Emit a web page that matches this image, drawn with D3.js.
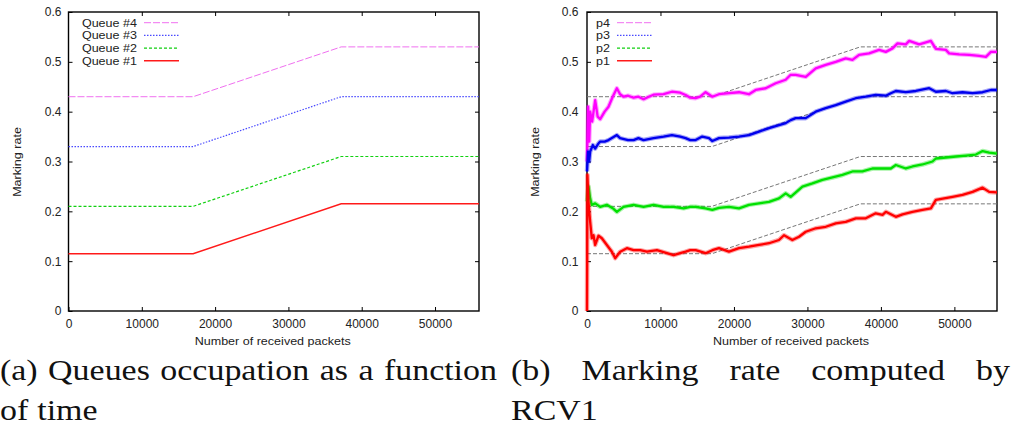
<!DOCTYPE html>
<html>
<head>
<meta charset="utf-8">
<script src="https://cdn.jsdelivr.net/npm/d3@7"></script>
<style>
  body { margin: 0; background: #fff; }
  svg { display: block; }
  .tick text { font-family: "Liberation Sans", Arial, sans-serif; font-size: 12px; fill: #222; }
  .tick line { stroke: #000; }
  .lbl { font-family: "Liberation Sans", Arial, sans-serif; font-size: 11px; fill: #222; }
  .cap { font-family: "Liberation Serif", serif; font-size: 29px; fill: #111; }
</style>
</head>
<body>
<svg id="chart" width="1017" height="430"></svg>
<script>
// ---------- data ----------
const xTicks = [0, 10000, 20000, 30000, 40000, 50000];
const yTicks = [0, 0.1, 0.2, 0.3, 0.4, 0.5, 0.6];

// target occupation profile (panel a, grey guides in panel b)
const targetX = [0, 17000, 37200, 56000];
const queue4 = [0.43, 0.43, 0.53, 0.53];
const queue3 = [0.33, 0.33, 0.43, 0.43];
const queue2 = [0.21, 0.21, 0.31, 0.31];
const queue1 = [0.115, 0.115, 0.215, 0.215];
const queueNames = ["Queue #4", "Queue #3", "Queue #2", "Queue #1"];

// marking rate computed by RCV1 (panel b), [packets, rate]
const p4 = [[0, 0.30], [150, 0.41], [300, 0.34], [431, 0.40], [700, 0.38], [1113, 0.423], [1450, 0.39],
  [1794, 0.385], [2400, 0.40], [2929, 0.41], [3500, 0.43], [4064, 0.447], [4500, 0.435], [4973, 0.43],
  [5600, 0.432], [6335, 0.428], [7000, 0.43], [7698, 0.425], [8400, 0.43], [9060, 0.434], [10422, 0.435],
  [11557, 0.44], [12693, 0.438], [13420, 0.4335], [14056, 0.428], [14780, 0.427], [15400, 0.43],
  [16140, 0.439], [17060, 0.43], [17960, 0.435], [19320, 0.437], [20680, 0.439], [22040, 0.435],
  [22960, 0.4435], [24320, 0.447], [25680, 0.457], [27040, 0.464], [27720, 0.474], [28400, 0.474],
  [29770, 0.47], [31130, 0.487], [32490, 0.494], [33850, 0.50], [35210, 0.507], [36130, 0.504],
  [37030, 0.514], [38390, 0.517], [39750, 0.524], [40670, 0.52], [41580, 0.527], [42260, 0.537],
  [43390, 0.535], [43850, 0.542], [45210, 0.535], [46350, 0.54], [46800, 0.542], [47480, 0.526],
  [48840, 0.524], [49290, 0.517], [50650, 0.515], [52020, 0.514], [53380, 0.512], [54290, 0.51],
  [54970, 0.52], [55800, 0.52]];
const p3 = [[0, 0.28], [150, 0.32], [300, 0.30], [431, 0.32], [800, 0.333], [1113, 0.326], [1500, 0.335],
  [1794, 0.34], [2400, 0.34], [2929, 0.343], [3500, 0.348], [4064, 0.353], [4500, 0.347], [5600, 0.343],
  [6335, 0.343], [7000, 0.347], [7698, 0.343], [9060, 0.347], [10422, 0.35], [11557, 0.353],
  [12693, 0.35], [13420, 0.347], [14056, 0.343], [14780, 0.343], [15690, 0.35], [16600, 0.347],
  [17060, 0.341], [17960, 0.347], [19320, 0.348], [20680, 0.35], [22040, 0.353], [23410, 0.36],
  [24770, 0.367], [26130, 0.373], [27040, 0.377], [27720, 0.383], [28400, 0.387], [29770, 0.387],
  [31130, 0.40], [32490, 0.407], [33850, 0.413], [35210, 0.42], [36580, 0.427], [37940, 0.43],
  [39300, 0.4335], [40670, 0.432], [41350, 0.437], [42030, 0.4415], [43390, 0.439], [44750, 0.4415],
  [46570, 0.447], [47480, 0.44], [48840, 0.4415], [49750, 0.437], [51110, 0.439], [52480, 0.437],
  [53840, 0.439], [54970, 0.4435], [55800, 0.4435]];
const p2 = [[0, 0.22], [200, 0.25], [431, 0.226], [650, 0.213], [1113, 0.216], [1794, 0.209],
  [2700, 0.213], [3610, 0.205], [4064, 0.199], [4973, 0.209], [6335, 0.213], [7698, 0.209],
  [9060, 0.213], [10422, 0.209], [11785, 0.209], [13147, 0.206], [14056, 0.209], [14780, 0.209],
  [16140, 0.206], [17060, 0.203], [17960, 0.207], [19320, 0.209], [20680, 0.206], [22040, 0.213],
  [23410, 0.216], [24770, 0.219], [26130, 0.226], [27040, 0.236], [27720, 0.229], [29320, 0.2495],
  [30680, 0.256], [32040, 0.263], [33400, 0.268], [34770, 0.273], [36130, 0.28], [37490, 0.28],
  [38850, 0.286], [40220, 0.286], [41350, 0.286], [42030, 0.293], [43390, 0.286], [44300, 0.29],
  [45660, 0.294], [47020, 0.30], [47480, 0.306], [48840, 0.308], [50200, 0.31], [51570, 0.312],
  [52930, 0.314], [53840, 0.321], [54740, 0.318], [55800, 0.316]];
const p1 = [[0, 0], [60, 0.273], [200, 0.22], [431, 0.179], [655, 0.146], [885, 0.152], [1113, 0.1325],
  [1567, 0.151], [2021, 0.146], [2702, 0.1325], [3383, 0.119], [3837, 0.106], [4518, 0.119],
  [5426, 0.126], [6335, 0.122], [7244, 0.122], [8152, 0.119], [9514, 0.122], [10876, 0.116],
  [11785, 0.112], [12693, 0.116], [13420, 0.119], [14056, 0.122], [14780, 0.122], [16140, 0.116],
  [17060, 0.122], [17960, 0.126], [19320, 0.119], [20680, 0.126], [22040, 0.129], [23410, 0.1325],
  [24770, 0.136], [26130, 0.1425], [26810, 0.152], [27950, 0.1425], [28860, 0.149], [29770, 0.159],
  [31130, 0.166], [32490, 0.169], [33850, 0.176], [35210, 0.179], [36580, 0.186], [37940, 0.186],
  [39300, 0.196], [40220, 0.193], [40670, 0.199], [42030, 0.189], [42940, 0.194], [44300, 0.199],
  [45660, 0.203], [46800, 0.206], [47480, 0.223], [48610, 0.226], [49750, 0.229], [51110, 0.233],
  [52480, 0.239], [53840, 0.2475], [54740, 0.239], [55800, 0.238]];
const pNames = ["p4", "p3", "p2", "p1"];

const xTitle = "Number of received packets";
const yTitle = "Marking rate";
const captionA = ["(a) Queues occupation as a function", "of time"];
const captionB = ["(b) Marking rate computed by", "RCV1"];

// ---------- styling ----------
const keyStyles = [
  {color: "#f070f0", dash: "7,2", width: 1},
  {color: "#4a4aff", dash: "1.5,1.5", width: 1.2},
  {color: "#10d010", dash: "3,2", width: 1.2},
  {color: "#ff1a1a", dash: null, width: 1.5}
];
const rateColors = ["#ff00ff", "#0000ee", "#00e000", "#ff0000"];
const plotTop = 12, plotBottom = 311;

const svg = d3.select("#chart");

function stretch(sel, k) {
  sel.each(function () {
    const w = this.getComputedTextLength();
    d3.select(this).attr("textLength", w * k).attr("lengthAdjust", "spacingAndGlyphs");
  });
}

function panel(x0, x1, xMax, labPad, yTitleX) {
  const x = d3.scaleLinear().domain([0, xMax]).range([x0, x1]);
  const y = d3.scaleLinear().domain([0, 0.6]).range([plotBottom, plotTop]);
  const g = svg.append("g");
  const yFmt = d => d === 0 ? "0" : d3.format(".1f")(d);

  g.append("g").attr("transform", `translate(0,${plotBottom})`)
    .call(d3.axisBottom(x).tickValues(xTicks).tickFormat(d3.format("d"))
      .tickSizeInner(-4).tickSizeOuter(0).tickPadding(8.5));
  g.append("g").attr("transform", `translate(0,${plotTop})`)
    .call(d3.axisTop(x).tickValues(xTicks.slice(1)).tickFormat("").tickSizeInner(-4).tickSizeOuter(0));
  g.append("g").attr("transform", `translate(${x0},0)`)
    .call(d3.axisLeft(y).tickValues(yTicks).tickFormat(yFmt)
      .tickSizeInner(-4).tickSizeOuter(0).tickPadding(labPad));
  g.append("g").attr("transform", `translate(${x1},0)`)
    .call(d3.axisRight(y).tickValues(yTicks.slice(1, -1)).tickFormat("").tickSizeInner(-4).tickSizeOuter(0));
  g.selectAll(".domain").remove();

  g.append("rect")
    .attr("x", x0).attr("y", plotTop).attr("width", x1 - x0).attr("height", plotBottom - plotTop)
    .attr("fill", "none").attr("stroke", "#000").attr("stroke-width", 1.4);

  g.append("text").attr("class", "lbl").attr("text-anchor", "middle")
    .attr("x", (x0 + x1) / 2 - 1).attr("y", 345).text(xTitle).call(stretch, 1.14);
  g.append("text").attr("class", "lbl").attr("text-anchor", "middle")
    .attr("transform", `translate(${yTitleX},162) rotate(-90)`).text(yTitle).call(stretch, 1.14);

  return {g, x, y};
}

function legend(g, names, textX) {
  const ly = i => 22.7 + i * 12.7;
  names.forEach((n, i) => {
    const s = keyStyles[i];
    g.append("text").attr("class", "lbl").attr("text-anchor", "end")
      .attr("x", textX).attr("y", ly(i) + 4).text(n).call(stretch, 1.14);
    g.append("line").attr("x1", textX + 7).attr("x2", textX + 42)
      .attr("y1", ly(i)).attr("y2", ly(i))
      .attr("stroke", s.color).attr("stroke-width", s.width)
      .attr("stroke-dasharray", s.dash);
  });
}

// ---------- panel (a) ----------
const A = panel(68.5, 479, 56000, 7, 21);
const lineA = d3.line().x(d => A.x(d[0])).y(d => A.y(d[1]));
[queue4, queue3, queue2, queue1].forEach((q, i) => {
  const s = keyStyles[i];
  A.g.append("path").datum(targetX.map((t, j) => [t, q[j]]))
    .attr("d", lineA).attr("fill", "none")
    .attr("stroke", s.color).attr("stroke-width", s.width)
    .attr("stroke-dasharray", s.dash);
});
legend(A.g, queueNames, 137);

// ---------- panel (b) ----------
const B = panel(587, 997, 55800, 8.5, 539);
const lineB = d3.line().x(d => B.x(d[0])).y(d => B.y(d[1]));
[queue4, queue3, queue2, queue1].forEach(q => {
  B.g.append("path").datum(targetX.map((t, j) => [t, q[j]]))
    .attr("d", lineB).attr("fill", "none")
    .attr("stroke", "#777").attr("stroke-width", 1)
    .attr("stroke-dasharray", "4,2");
});
[p4, p3, p2, p1].forEach((p, i) => {
  // soft halo + core to mimic the noisy band
  B.g.append("path").datum(p).attr("d", lineB).attr("fill", "none")
    .attr("stroke", rateColors[i]).attr("stroke-width", 4.5).attr("stroke-opacity", 0.35)
    .attr("stroke-linejoin", "round");
  B.g.append("path").datum(p).attr("d", lineB).attr("fill", "none")
    .attr("stroke", rateColors[i]).attr("stroke-width", 2.3)
    .attr("stroke-linejoin", "round");
});
legend(B.g, pNames, 610);

// ---------- captions ----------
function caption(lines, x0, width) {
  const base = [380, 420];
  lines.forEach((ln, li) => {
    const words = ln.split(" ");
    const nodes = words.map(w => svg.append("text").attr("class", "cap").attr("y", base[li]).text(w));
    nodes.forEach(n => n.call(stretch, 1.17));
    const widths = nodes.map(n => +n.attr("textLength"));
    const sum = d3.sum(widths);
    const last = li === lines.length - 1;
    const gap = last || words.length < 2 ? 9 : (width - sum) / (words.length - 1);
    let cx = x0;
    nodes.forEach((n, k) => { n.attr("x", cx); cx += widths[k] + gap; });
  });
}
caption(captionA, 0, 497);
caption(captionB, 511, 499);
</script>
</body>
</html>
